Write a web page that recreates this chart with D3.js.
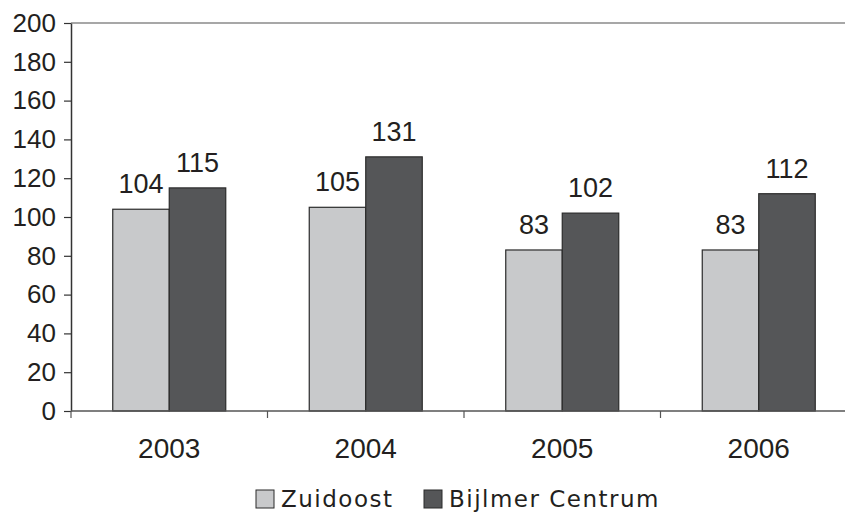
<!DOCTYPE html>
<html>
<head>
<meta charset="utf-8">
<script src="https://cdn.jsdelivr.net/npm/d3@7"></script>
<style>
  html, body { margin: 0; padding: 0; background: #fff; }
  svg { display: block; font-family: "Liberation Sans", Arial, Helvetica, sans-serif; }
</style>
</head>
<body>
<svg id="chart" width="845" height="512"></svg>
<script>
// Chart data
const years = ["2003", "2004", "2005", "2006"];
const seriesNames = ["Zuidoost", "Bijlmer Centrum"];
const zuidoost = [104, 105, 83, 83];
const bijlmerCentrum = [115, 131, 102, 112];
const yTicks = [0, 20, 40, 60, 80, 100, 120, 140, 160, 180, 200];

const colors = ["#c8c9cb", "#555658"];
const svg = d3.select("#chart");

const plot = { left: 71, right: 857, top: 23, bottom: 411 };

const x = d3.scaleBand().domain(years).range([plot.left, plot.right]).paddingInner(0).paddingOuter(0);
const inner = d3.scaleBand().domain(seriesNames)
  .range([0, x.bandwidth()]).paddingInner(0).paddingOuter(0.739);
const y = d3.scaleLinear().domain([0, 200]).range([plot.bottom, plot.top]);

// Top frame line
svg.append("line")
  .attr("x1", plot.left).attr("x2", plot.right)
  .attr("y1", y(200)).attr("y2", y(200))
  .attr("stroke", "#8a8a8a").attr("stroke-width", 1.5);

// Bars
const rows = years.map((yr, i) => ({ year: yr, values: [zuidoost[i], bijlmerCentrum[i]] }));
const groups = svg.append("g").selectAll("g").data(rows).join("g")
  .attr("transform", d => `translate(${x(d.year)},0)`);

groups.selectAll("rect")
  .data(d => d.values.map((v, j) => ({ name: seriesNames[j], value: v, j })))
  .join("rect")
  .attr("x", d => inner(d.name))
  .attr("width", inner.bandwidth())
  .attr("y", d => y(d.value))
  .attr("height", d => y(0) - y(d.value))
  .attr("fill", d => colors[d.j])
  .attr("stroke", "#2b2b2b")
  .attr("stroke-width", 1.2);

groups.selectAll("text")
  .data(d => d.values.map((v, j) => ({ name: seriesNames[j], value: v })))
  .join("text")
  .attr("x", d => inner(d.name) + inner.bandwidth() / 2)
  .attr("y", d => y(d.value) - 16)
  .attr("text-anchor", "middle")
  .attr("font-size", 27)
  .attr("fill", "#231f20")
  .text(d => d.value);

// Y axis
const yAxis = svg.append("g")
  .attr("transform", `translate(${plot.left},0)`)
  .call(d3.axisLeft(y).tickValues(yTicks).tickSize(7).tickPadding(8).tickSizeOuter(0));
yAxis.select(".domain").attr("stroke", "#333").attr("stroke-width", 1.5);
yAxis.selectAll(".tick line").attr("stroke", "#333").attr("stroke-width", 1.2);
yAxis.selectAll(".tick text").attr("font-size", 26).attr("fill", "#231f20")
  .attr("font-family", "Liberation Sans, Arial, sans-serif");

// X axis with boundary ticks between categories
const xAxis = svg.append("g").attr("transform", `translate(0,${plot.bottom})`);
xAxis.append("line")
  .attr("x1", plot.left).attr("x2", plot.right)
  .attr("stroke", "#555").attr("stroke-width", 1.5);
const boundaries = years.map(yr => x(yr)).concat([x(years[years.length - 1]) + x.bandwidth()]);
xAxis.selectAll(".bt").data(boundaries).join("line")
  .attr("class", "bt")
  .attr("x1", d => d).attr("x2", d => d)
  .attr("y1", 0).attr("y2", 7)
  .attr("stroke", "#555").attr("stroke-width", 1.2);
xAxis.selectAll(".yl").data(years).join("text")
  .attr("class", "yl")
  .attr("x", d => x(d) + x.bandwidth() / 2)
  .attr("y", 47)
  .attr("text-anchor", "middle")
  .attr("font-size", 28)
  .attr("fill", "#231f20")
  .text(d => d);

// Legend
const legendItems = [
  { name: seriesNames[0], color: colors[0], x: 256 },
  { name: seriesNames[1], color: colors[1], x: 424 }
];
const legend = svg.append("g");
legend.selectAll("rect").data(legendItems).join("rect")
  .attr("x", d => d.x).attr("y", 490)
  .attr("width", 18).attr("height", 18)
  .attr("fill", d => d.color)
  .attr("stroke", "#2b2b2b").attr("stroke-width", 1);
legend.selectAll("text").data(legendItems).join("text")
  .attr("x", d => d.x + 25).attr("y", 507)
  .attr("font-family", "DejaVu Sans, sans-serif")
  .attr("font-size", 23)
  .attr("letter-spacing", 1.5)
  .attr("fill", "#231f20")
  .text(d => d.name);
</script>
</body>
</html>
